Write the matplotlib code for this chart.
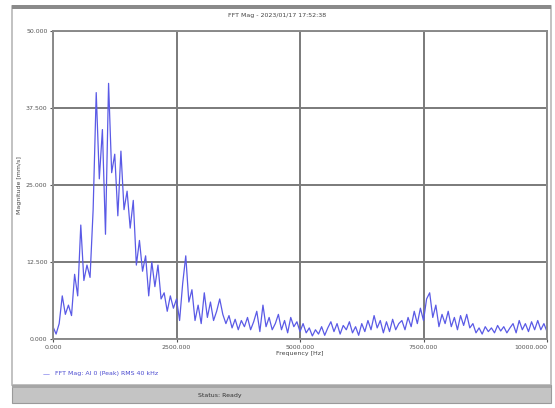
import numpy as np
import matplotlib
matplotlib.use("Agg")
import matplotlib.pyplot as plt
from matplotlib.patches import Rectangle

# ---- data ----
bin_hz = 62.5
magnitude = [
    2.0, 0.8, 2.5, 7.0, 4.0, 5.5, 3.8, 10.5, 7.0, 18.5,
    9.5, 12.0, 10.0, 21.0, 40.0, 26.0, 34.0, 17.0, 41.5, 27.0,
    30.0, 20.0, 30.5, 21.0, 24.0, 18.0, 22.5, 12.0, 16.0, 11.0,
    13.5, 7.0, 12.5, 8.5, 12.0, 6.5, 7.5, 4.5, 7.0, 5.0,
    6.5, 3.0, 9.0, 13.5, 6.0, 8.0, 3.0, 5.5, 2.5, 7.5,
    3.5, 6.0, 3.0, 4.5, 6.5, 4.0, 2.5, 3.8, 1.8, 3.2,
    1.5, 3.0, 2.0, 3.5, 1.5, 2.8, 4.5, 1.2, 5.5, 2.0,
    3.5, 1.5, 2.5, 4.0, 1.5, 3.0, 1.0, 3.5, 2.0, 2.8,
    1.2, 2.5, 1.0, 1.8, 0.5, 1.5, 0.8, 2.0, 0.6, 1.8,
    2.8, 1.2, 2.5, 0.8, 2.2, 1.5, 2.8, 1.0, 2.0, 0.6,
    2.5, 1.2, 3.0, 1.5, 3.8, 1.8, 3.0, 1.0, 2.8, 1.2,
    3.2, 1.5, 2.5, 3.0, 1.5, 3.5, 2.0, 4.5, 2.5, 5.0,
    3.0, 6.5, 7.5, 3.5, 5.5, 2.0, 4.0, 2.5, 4.5, 2.0,
    3.5, 1.5, 3.8, 2.2, 4.0, 1.8, 2.5, 1.0, 1.8, 0.8,
    2.0, 1.2, 1.8, 1.0, 2.2, 1.3, 2.0, 1.0, 1.8, 2.5,
    1.0, 3.0, 1.5, 2.5, 1.2, 2.8, 1.5, 3.0, 1.5, 2.5,
    1.2,
]
frequency = np.arange(len(magnitude)) * bin_hz

x_ticks = [0, 2500, 5000, 7500, 10000]
x_tick_labels = ["0.000", "2500.000", "5000.000", "7500.000", "10000.000"]
y_ticks = [0, 12.5, 25, 37.5, 50]
y_tick_labels = ["0.000", "12.500", "25.000", "37.500", "50.000"]

title_text = "FFT Mag - 2023/01/17 17:52:38"
x_label = "Frequency [Hz]"
y_label = "Magnitude [mm/s]"
legend_text = "FFT Mag: AI 0 (Peak) RMS 40 kHz"
status_text = "Status: Ready"

W, H = 555, 408
fig = plt.figure(figsize=(W / 100, H / 100), dpi=100)
fig.patch.set_facecolor("white")

def px_rect(x0, y0, x1, y1, z=-5, **kw):
    r = Rectangle((x0 / W, 1 - y1 / H), (x1 - x0) / W, (y1 - y0) / H,
                  transform=fig.transFigure, zorder=z, **kw)
    fig.patches.append(r)
    return r

# outer panel
px_rect(12, 6, 551, 385, facecolor="white", edgecolor="#b8b8b8", lw=1.2)
px_rect(12, 5, 551, 9, facecolor="#8a8a8a", edgecolor="none")
# status bar
px_rect(12, 385, 551, 403, facecolor="#c4c4c4", edgecolor="#9a9a9a", lw=0.8)
px_rect(12, 385, 551, 388, facecolor="#a6a6a6", edgecolor="none")

ax = fig.add_axes([53 / W, 1 - 339 / H, (547 - 53) / W, (339 - 31) / H])
ax.set_zorder(2)
ax.set_facecolor("white")
ax.plot(frequency, magnitude, color="#5a5ae6", lw=0.9)
ax.set_xlim(0, 10000)
ax.set_ylim(0, 50)
ax.set_xticks(x_ticks)
ax.set_xticklabels(x_tick_labels)
ax.set_yticks(y_ticks)
ax.set_yticklabels(y_tick_labels)
ax.grid(True, color="#7a7a7a", lw=1.4)
ax.set_axisbelow(True)
for s in ax.spines.values():
    s.set_color("#8a8a8a")
    s.set_linewidth(1.4)
ax.tick_params(labelsize=4.5, colors="#555555", length=2, pad=2)
ax.set_xlabel(x_label, fontsize=4.5, color="#444444", labelpad=1)
ax.set_ylabel(y_label, fontsize=4.5, color="#444444", labelpad=3)
xt = ax.get_xticklabels()
xt[-1].set_horizontalalignment("right")

fig.text(0.5, 1 - 16 / H, title_text, ha="center", va="center",
         fontsize=4.5, color="#444444", zorder=5)
# legend
fig.text(43 / W, 1 - 374 / H, "—", ha="left", va="center",
         fontsize=5, color="#5a5ae6", zorder=5)
fig.text(55 / W, 1 - 374 / H, legend_text, ha="left", va="center",
         fontsize=4.5, color="#4a4ad0", zorder=5)
fig.text(220 / W, 1 - 395 / H, status_text, ha="center", va="center",
         fontsize=4.5, color="#333333", zorder=5)

fig.savefig("out.png", dpi=100)
